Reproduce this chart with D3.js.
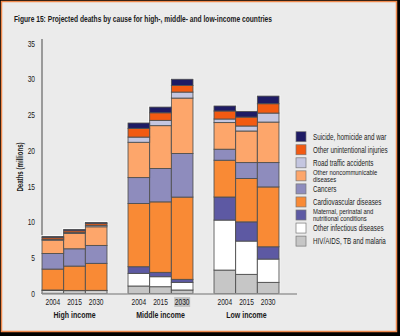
<!DOCTYPE html>
<html>
<head>
<meta charset="utf-8">
<script src="https://cdn.jsdelivr.net/npm/d3@7"></script>
<style>
  body { margin: 0; background: #000; }
  svg { display: block; }
  text { font-family: "Liberation Sans", Arial, sans-serif; fill: #1a1a1a; }
</style>
</head>
<body>
<svg id="chart" width="400" height="336"></svg>
<script>
// groups and years on the x axis
var groups = ["High income", "Middle income", "Low income"];
var years = ["2004", "2015", "2030"];

// causes, stacked bottom to top
var causes = [
  "HIV/AIDS, TB and malaria",
  "Other infectious diseases",
  "Maternal, perinatal and nutritional conditions",
  "Cardiovascular diseases",
  "Cancers",
  "Other noncommunicable diseases",
  "Road traffic accidents",
  "Other unintentional injuries",
  "Suicide, homicide and war"
];
var causeColors = ["#c6c6c6", "#ffffff", "#5d59a3", "#f98a35", "#8e8cbd",
                   "#fda66b", "#c4c6e0", "#f25a12", "#1e1b64"];

// deaths (millions), order: high 2004/2015/2030, middle ..., low ...
var hivTbMalaria       = [0.05, 0.05, 0.04, 1.05, 0.95, 0.49, 3.28, 2.68, 1.56];
var otherInfectious    = [0.35, 0.33, 0.35, 1.77, 1.40, 1.07, 7.00, 4.66, 3.26];
var maternal           = [0.09, 0.05, 0.05, 0.93, 0.61, 0.42, 3.23, 2.69, 1.72];
var cardiovascular     = [2.93, 3.41, 3.78, 8.85, 9.87, 11.52, 5.15, 6.07, 8.38];
var cancers            = [2.18, 2.42, 2.51, 3.63, 4.67, 6.10, 1.54, 2.23, 3.41];
var otherNcd           = [1.87, 2.15, 2.61, 4.94, 6.00, 7.76, 3.73, 4.42, 5.67];
var roadTraffic        = [0.13, 0.12, 0.20, 0.73, 0.74, 0.84, 0.50, 0.70, 1.26];
var otherUnintentional = [0.22, 0.25, 0.24, 1.22, 1.06, 0.93, 1.12, 1.25, 1.31];
var suicideHomicideWar = [0.16, 0.19, 0.17, 0.75, 0.80, 0.87, 0.70, 0.80, 1.07];

var series = [hivTbMalaria, otherInfectious, maternal, cardiovascular, cancers,
              otherNcd, roadTraffic, otherUnintentional, suicideHomicideWar];

// legend text, top to bottom (line breaks as in the figure)
var legendLabels = [
  ["Suicide, homicide and war"],
  ["Other unintentional injuries"],
  ["Road traffic accidents"],
  ["Other noncommunicable", "diseases"],
  ["Cancers"],
  ["Cardiovascular diseases"],
  ["Maternal, perinatal and", "nutritional conditions"],
  ["Other infectious diseases"],
  ["HIV/AIDS, TB and malaria"]
];

var yTicks = [0, 5, 10, 15, 20, 25, 30, 35];

var svg = d3.select("#chart");

// the original uses a condensed face; squeeze text horizontally
function condensed(sel, x, y, k, extra){
  sel.attr("x", 0).attr("y", 0)
    .attr("transform", "translate(" + x + "," + y + ")" + (extra || "") + " scale(" + k + ",1)");
  return sel;
}

// frame
svg.append("rect")
  .attr("x", 1.5).attr("y", 1.5)
  .attr("width", 395).attr("height", 330)
  .attr("fill", "#ebebeb")
  .attr("stroke", "#f08a4e")
  .attr("stroke-width", 1.5);

svg.append("text")
  .attr("x", 14).attr("y", 21.5)
  .attr("font-size", 9.5)
  .attr("font-weight", "bold")
  .attr("textLength", 258)
  .attr("lengthAdjust", "spacingAndGlyphs")
  .text("Figure 15: Projected deaths by cause for high-, middle- and low-income countries");

// scales
var y = d3.scaleLinear().domain([0, 35]).range([293.5, 43.5]);
var x0 = d3.scaleBand().domain(groups).range([42, 279]).paddingInner(0.244).paddingOuter(0);
var x1 = d3.scaleBand().domain(years).range([0, x0.bandwidth()]).padding(0);

// build stacked rows
var rows = [];
groups.forEach(function(g, gi){
  years.forEach(function(yr, yi){
    var row = {group: g, year: yr};
    causes.forEach(function(c, ci){ row[c] = series[ci][gi * 3 + yi]; });
    rows.push(row);
  });
});
var stacked = d3.stack().keys(causes)(rows);

// y axis
var yAxis = svg.append("g")
  .attr("transform", "translate(42,0)")
  .call(d3.axisLeft(y).tickValues(yTicks).tickSize(0).tickPadding(8));
yAxis.select(".domain").remove();
yAxis.selectAll(".tick text")
  .attr("font-size", 8.5)
  .attr("font-family", "\"Liberation Sans\", Arial, sans-serif")
  .attr("fill", "#1a1a1a")
  .attr("dy", "0.32em")
  .each(function(){
    condensed(d3.select(this), -7, 0, 0.78);
  });

svg.append("line")
  .attr("x1", 42).attr("x2", 42)
  .attr("y1", 39).attr("y2", y(0) + 1)
  .attr("stroke", "#9a9a9a").attr("stroke-width", 2);

condensed(svg.append("text"), 23, 167, 0.72, " rotate(-90)")
  .attr("text-anchor", "middle")
  .attr("font-size", 8.5)
  .attr("font-weight", "bold")
  .text("Deaths (millions)");

// white halo behind each bar
svg.append("g").selectAll("rect")
  .data(rows)
  .enter()
  .append("rect")
  .attr("x", function(r){ return x0(r.group) + x1(r.year); })
  .attr("y", function(r){ return y(d3.sum(causes, function(c){ return r[c]; })); })
  .attr("width", x1.bandwidth())
  .attr("height", function(r){ return y(0) - y(d3.sum(causes, function(c){ return r[c]; })); })
  .attr("fill", "none")
  .attr("stroke", "#ffffff")
  .attr("stroke-width", 2.5);

// stacked segments
svg.append("g").selectAll("g")
  .data(stacked)
  .enter()
  .append("g")
  .attr("fill", function(s, i){ return causeColors[i]; })
  .selectAll("rect")
  .data(function(s){ return s; })
  .enter()
  .append("rect")
  .attr("x", function(d){ return x0(d.data.group) + x1(d.data.year); })
  .attr("y", function(d){ return y(d[1]); })
  .attr("width", x1.bandwidth())
  .attr("height", function(d){ return y(d[0]) - y(d[1]); })
  .attr("stroke", "#505050")
  .attr("stroke-width", 0.9);

// baseline
svg.append("line")
  .attr("x1", 42).attr("x2", 297)
  .attr("y1", y(0) + 0.5).attr("y2", y(0) + 0.5)
  .attr("stroke", "#9a9a9a").attr("stroke-width", 1.5);

// year labels
var yearLabels = svg.append("g");
groups.forEach(function(g){
  years.forEach(function(yr){
    var cx = x0(g) + x1(yr) + x1.bandwidth() / 2;
    if (g == "Middle income" && yr == "2030") {
      // the highlighted label in the original
      yearLabels.append("rect")
        .attr("x", cx - 8).attr("y", 297)
        .attr("width", 16).attr("height", 10)
        .attr("fill", "#c4c4c4");
    }
    condensed(yearLabels.append("text"), cx, 305, 0.78)
      .attr("text-anchor", "middle")
      .attr("font-size", 8.5)
      .text(yr);
  });
});

groups.forEach(function(g){
  condensed(svg.append("text"), x0(g) + x0.bandwidth() / 2, 317.5, 0.78)
    .attr("text-anchor", "middle")
    .attr("font-size", 9)
    .attr("font-weight", "bold")
    .text(g);
});

// legend
var legendY = d3.scaleLinear().domain([0, legendLabels.length - 1]).range([136.7, 241.1]);
var legendColors = causeColors.slice().reverse();
var legend = svg.append("g").selectAll("g")
  .data(legendLabels)
  .enter()
  .append("g")
  .attr("transform", function(d, i){ return "translate(296," + legendY(i) + ")"; });

legend.append("rect")
  .attr("x", 0).attr("y", -5)
  .attr("width", 10).attr("height", 10)
  .attr("fill", function(d, i){ return legendColors[i]; })
  .attr("stroke", "#777")
  .attr("stroke-width", 0.7);

legend.each(function(lines){
  var g = d3.select(this);
  lines.forEach(function(line, li){
    var by = lines.length == 1 ? 3 : (li == 0 ? -1.3 : 6.3);
    condensed(g.append("text"), 17, by, 0.74)
      .attr("font-size", lines.length == 1 ? 8.5 : 8)
      .text(line);
  });
});
</script>
</body>
</html>
